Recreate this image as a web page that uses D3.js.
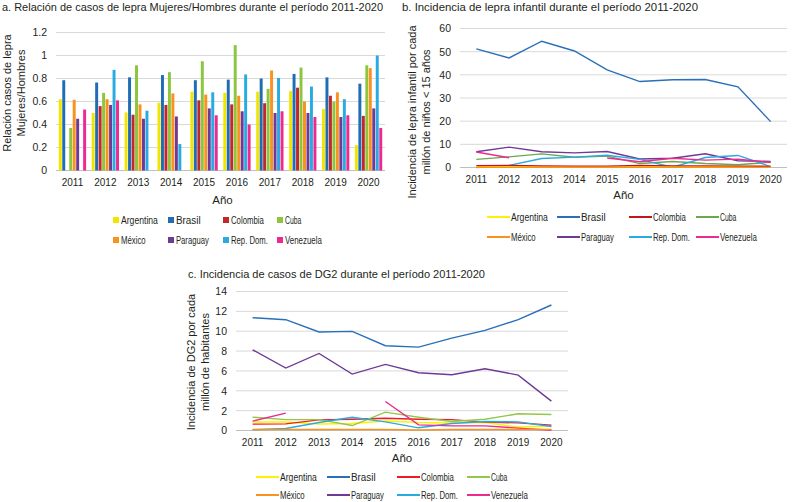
<!DOCTYPE html>
<html>
<head>
<meta charset="utf-8">
<script src="https://cdn.jsdelivr.net/npm/d3@7"></script>
<style>
  body { margin: 0; background: #fff; }
  svg text { font-family: "Liberation Sans", Arial, sans-serif; fill: #231f20; }
  .grid line { stroke: #d9d9d9; }
</style>
</head>
<body>
<svg id="chart" width="792" height="502"></svg>
<script>
// años y países
var years = ["2011", "2012", "2013", "2014", "2015", "2016", "2017", "2018", "2019", "2020"];
var countries = ["Argentina", "Brasil", "Colombia", "Cuba", "México", "Paraguay", "Rep. Dom.", "Venezuela"];

// a. relación Mujeres/Hombres (null = sin dato)
var ratioArgentina = [0.62, 0.50, 0.505, 0.59, 0.685, 0.675, 0.685, 0.69, 0.535, 0.22];
var ratioBrasil    = [0.785, 0.765, 0.81, 0.83, 0.785, 0.79, 0.80, 0.84, 0.81, 0.755];
var ratioColombia  = [null, 0.56, 0.485, 0.57, 0.61, 0.575, 0.585, 0.72, 0.65, 0.475];
var ratioCuba      = [0.37, 0.675, 0.915, 0.855, 0.95, 1.09, 0.71, 0.895, 0.60, 0.915];
var ratioMexico    = [0.615, 0.62, 0.575, 0.67, 0.66, 0.65, 0.87, 0.60, 0.68, 0.89];
var ratioParaguay  = [0.45, 0.57, 0.45, 0.47, 0.54, 0.515, 0.50, 0.50, 0.465, 0.54];
var ratioRepDom    = [null, 0.875, 0.52, 0.23, 0.68, 0.835, 0.805, 0.73, 0.62, 1.0];
var ratioVenezuela = [0.53, 0.61, null, null, 0.48, 0.40, 0.515, 0.465, 0.48, 0.37];

// b. incidencia lepra infantil por millón de niños < 15 años
var infArgentina = [0.3, 0.3, 0.3, 0.3, 0.3, 0.4, 0.3, 0.3, 0.3, 0.2];
var infBrasil    = [51.2, 47.3, 54.5, 50.3, 42.1, 37.1, 37.9, 38.0, 34.8, 19.8];
var infColombia  = [0.8, 0.9, 0.7, 0.6, 0.6, 0.9, 0.7, 0.7, 0.6, 0.5];
var infCuba      = [3.5, 4.6, 5.9, 4.4, 4.9, 1.7, 2.6, 1.7, 1.2, 2.3];
var infMexico    = [0.1, 0.1, 0.1, 0.1, 0.1, 0.1, 0.1, 0.1, 0.1, 0.1];
var infParaguay  = [6.8, 8.8, 6.8, 6.3, 6.9, 3.7, 4.0, 5.9, 2.9, 2.6];
var infRepDom    = [0.0, 0.9, 3.9, 4.5, 5.3, 3.5, 0.1, 4.3, 5.2, 0.4];
var infVenezuela = [6.7, 4.2, null, null, 4.1, 2.5, 4.0, 3.2, 3.6, 2.2];

// c. incidencia DG2 por millón de habitantes
var dgArgentina = [0.85, 0.85, 0.65, 0.7, 0.95, 0.8, 0.75, 0.8, 0.35, 0.45];
var dgBrasil    = [11.36, 11.16, 9.92, 9.98, 8.54, 8.40, 9.31, 10.08, 11.16, 12.64];
var dgColombia  = [0.64, 0.67, 1.07, 1.14, 1.24, 1.14, 1.1, 0.84, 0.77, 0.54];
var dgCuba      = [1.34, 1.1, 1.1, 0.5, 1.85, 1.34, 0.9, 1.14, 1.68, 1.61];
var dgMexico    = [0.1, 0.1, 0.1, 0.1, 0.1, 0.05, 0.1, 0.1, 0.1, 0.1];
var dgParaguay  = [8.13, 6.29, 7.76, 5.68, 6.66, 5.82, 5.61, 6.22, 5.58, 2.96];
var dgRepDom    = [0.07, 0.2, 0.8, 1.34, 0.87, 0.27, 0.7, 0.9, 0.87, 0.4];
var dgVenezuela = [0.94, 1.75, null, null, 2.92, 0.57, 0.47, 0.47, 0.24, 0.03];

var ticksA = [0, 0.2, 0.4, 0.6, 0.8, 1, 1.2];
var ticksB = [0, 10, 20, 30, 40, 50, 60];
var ticksC = [0, 2, 4, 6, 8, 10, 12, 14];

var barColors  = ["#f2e600", "#1f6db5", "#c1272d", "#8cc63f", "#f7931e", "#6f3996", "#29abe2", "#ec2a8f"];
var lineColorsB = ["#fff200", "#2a6fb8", "#c1161c", "#6aa84f", "#f7931e", "#6f3996", "#29abe2", "#ec2a8f"];
var lineColorsC = ["#fff200", "#2a6fb8", "#ed1c24", "#92c84a", "#f7931e", "#6f3996", "#29abe2", "#ec2a8f"];

var svg = d3.select("#chart");

/*
 * Common axis pieces
 */
function drawFrame(g, x, y, ticks, w, h) {
  g.append("g").attr("class", "grid")
    .selectAll("line").data(ticks.filter(function(t) { return t > 0; }))
    .enter().append("line")
      .attr("x1", 0).attr("x2", w)
      .attr("y1", function(d) { return y(d); })
      .attr("y2", function(d) { return y(d); });

  g.append("line").attr("x1", 0).attr("x2", w)
    .attr("y1", h).attr("y2", h)
    .attr("stroke", "#bfbfbf");

  g.append("g")
    .call(d3.axisLeft(y).tickValues(ticks).tickSize(0).tickPadding(9)
      .tickFormat(function(d) { return String(d); }))
    .call(function(a) { a.select(".domain").remove(); })
    .selectAll("text").style("font-size", "10.5px").attr("fill", "#231f20");

  g.append("g")
    .attr("transform", "translate(0," + h + ")")
    .call(d3.axisBottom(x).tickSize(0).tickPadding(8))
    .call(function(a) { a.select(".domain").remove(); })
    .selectAll("text").style("font-size", "10px").attr("fill", "#231f20");
}

function drawTitles(g, title, tx, ty, tlen, ylines, yx, yy) {
  g.append("text").attr("x", tx).attr("y", ty)
    .attr("textLength", tlen).attr("lengthAdjust", "spacingAndGlyphs")
    .style("font-size", "11px").text(title);
  ylines.forEach(function(t, i) {
    g.append("text")
      .attr("transform", "translate(" + (yx + i * 13.5) + "," + yy + ") rotate(-90)")
      .attr("text-anchor", "middle")
      .style("font-size", "11px").text(t);
  });
}

/*
 * a. Bar chart
 */
(function() {
  var left = 56, top = 32.5, w = 329, h = 138;
  var series = [ratioArgentina, ratioBrasil, ratioColombia, ratioCuba,
                ratioMexico, ratioParaguay, ratioRepDom, ratioVenezuela];

  var x = d3.scaleBand().domain(years).range([0, w]).paddingInner(0.17).paddingOuter(0.085);
  var x1 = d3.scaleBand().domain(countries).range([0, x.bandwidth()]).paddingInner(0.15);
  var y = d3.scaleLinear().domain([0, 1.2]).range([h, 0]);

  var root = svg.append("g");
  var g = root.append("g").attr("transform", "translate(" + left + "," + top + ")");
  drawFrame(g, x, y, ticksA, w, h);

  var groups = g.selectAll(".year").data(years)
    .enter().append("g").attr("class", "year")
    .attr("transform", function(d) { return "translate(" + x(d) + ",0)"; });

  groups.selectAll("rect")
    .data(function(d, i) {
      return countries.map(function(c, k) { return { key: c, k: k, value: series[k][i] }; })
        .filter(function(e) { return e.value != null; });
    })
    .enter().append("rect")
      .attr("x", function(d) { return x1(d.key); })
      .attr("y", function(d) { return y(d.value); })
      .attr("width", x1.bandwidth())
      .attr("height", function(d) { return h - y(d.value); })
      .attr("fill", function(d) { return barColors[d.k]; });

  drawTitles(root, "a. Relación de casos de lepra Mujeres/Hombres durante el período 2011-2020", 2, 11, 381,
    ["Relación casos de lepra", "Mujeres/Hombres"], 11, 93);

  root.append("text").attr("x", left + w / 2 + 2).attr("y", 204)
    .attr("text-anchor", "middle").style("font-size", "11.5px").text("Año");

  var legX = [57, 112, 167, 221];
  var leg = root.selectAll(".legA").data(countries).enter().append("g")
    .attr("transform", function(d, i) {
      return "translate(" + (left + legX[i % 4]) + "," + (217 + Math.floor(i / 4) * 20) + ")";
    });
  leg.append("rect").attr("width", 6).attr("height", 6)
    .attr("fill", function(d, i) { return barColors[i]; });
  leg.append("text").attr("x", 8).attr("y", 6.5)
    .attr("textLength", function(d) { return d.length * 4.1; })
    .attr("lengthAdjust", "spacingAndGlyphs")
    .style("font-size", "10px").text(function(d) { return d; });
})();

/*
 * Line charts (b and c)
 */
function lineChart(opt) {
  var x = d3.scaleBand().domain(years).range([0, opt.w]).padding(0);
  var y = d3.scaleLinear().domain(opt.domain).range([opt.h, 0]);

  var root = svg.append("g");
  var g = root.append("g").attr("transform", "translate(" + opt.left + "," + opt.top + ")");
  drawFrame(g, x, y, opt.ticks, opt.w, opt.h);

  var line = d3.line()
    .defined(function(d) { return d != null; })
    .x(function(d, i) { return x(years[i]) + x.bandwidth() / 2; })
    .y(function(d) { return y(d); });

  // draw order so small series stay visible like the original
  opt.order.forEach(function(k) {
    g.append("path").datum(opt.series[k])
      .attr("fill", "none")
      .attr("stroke", opt.colors[k])
      .attr("stroke-width", 1.4)
      .attr("d", line);
  });

  drawTitles(root, opt.title, opt.tx, opt.ty, opt.tlen, opt.ylines, opt.yx, opt.yy);

  root.append("text").attr("x", opt.left + opt.w / 2).attr("y", opt.top + opt.h + 31)
    .attr("text-anchor", "middle").style("font-size", "11.5px").text("Año");

  var leg = root.selectAll(".leg").data(countries).enter().append("g")
    .attr("transform", function(d, i) {
      return "translate(" + (opt.left + opt.legX[i % 4]) + "," + (opt.legY + Math.floor(i / 4) * opt.legDy) + ")";
    });
  leg.append("line").attr("x1", 0).attr("x2", 23).attr("y1", 0).attr("y2", 0)
    .attr("stroke", function(d, i) { return opt.colors[i]; })
    .attr("stroke-width", 2);
  leg.append("text").attr("x", 24).attr("y", 3.5)
    .attr("textLength", function(d) { return d.length * 4.1; })
    .attr("lengthAdjust", "spacingAndGlyphs")
    .style("font-size", "10px").text(function(d) { return d; });
}

lineChart({
  left: 460, top: 28.5, w: 327, h: 139,
  domain: [0, 60], ticks: ticksB,
  series: [infArgentina, infBrasil, infColombia, infCuba, infMexico, infParaguay, infRepDom, infVenezuela],
  colors: lineColorsB,
  order: [1, 5, 3, 6, 7, 0, 2, 4],
  title: "b. Incidencia de lepra infantil durante el período 2011-2020", tx: 402, ty: 11, tlen: 296,
  ylines: ["Incidencia  de lepra infantil por cada", "millón de niños < 15 años"], yx: 416, yy: 112,
  legX: [27, 97, 169, 236], legY: 217, legDy: 20
});

lineChart({
  left: 236, top: 291.5, w: 332, h: 139,
  domain: [0, 14], ticks: ticksC,
  series: [dgArgentina, dgBrasil, dgColombia, dgCuba, dgMexico, dgParaguay, dgRepDom, dgVenezuela],
  colors: lineColorsC,
  order: [1, 5, 0, 2, 3, 6, 7, 4],
  title: "c. Incidencia de casos de DG2 durante el período 2011-2020", tx: 188, ty: 278, tlen: 297,
  ylines: ["Incidencia de DG2 por cada", "millón de habitantes"], yx: 195, yy: 362,
  legX: [20, 91, 161, 231], legY: 477, legDy: 18
});
</script>
</body>
</html>
